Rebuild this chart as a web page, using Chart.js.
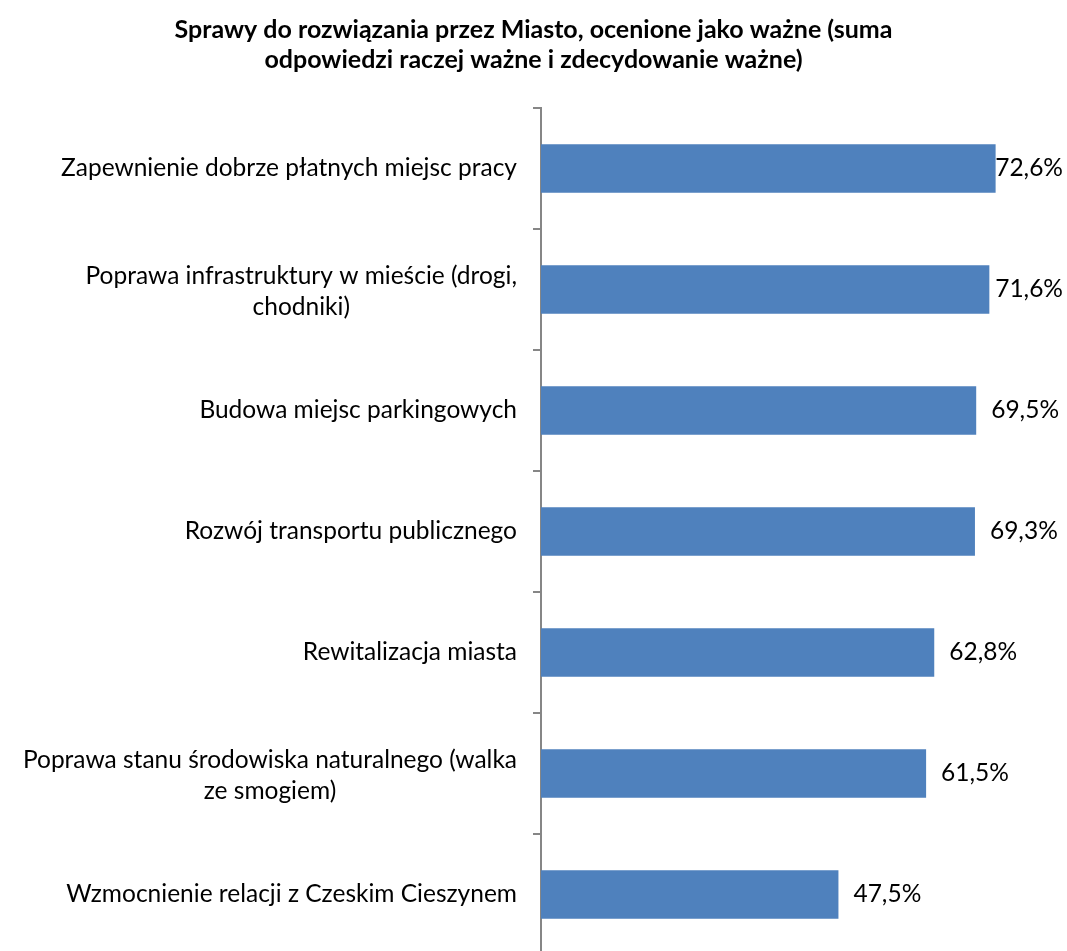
<!DOCTYPE html>
<html>
<head>
<meta charset="utf-8">
<script src="https://cdn.jsdelivr.net/npm/chart.js@4/dist/chart.umd.min.js"></script>
<style>
  html, body { margin: 0; padding: 0; background: #fff; overflow: hidden; }
  #wrap { position: relative; width: 1067px; height: 956px; }
</style>
</head>
<body>
<div id="wrap"><canvas id="chart"></canvas></div>
<script>
// Chart data
const categories = [
    ['Zapewnienie dobrze płatnych miejsc pracy'],
    ['Poprawa infrastruktury w mieście (drogi,', 'chodniki)'],
    ['Budowa miejsc parkingowych'],
    ['Rozwój transportu publicznego'],
    ['Rewitalizacja miasta'],
    ['Poprawa stanu środowiska naturalnego (walka', 'ze smogiem)'],
    ['Wzmocnienie relacji z Czeskim Cieszynem']
];
const values = [72.6, 71.6, 69.5, 69.3, 62.8, 61.5, 47.5];
const valueLabels = ['72,6%', '71,6%', '69,5%', '69,3%', '62,8%', '61,5%', '47,5%'];
const titleLines = [
    'Sprawy do rozwiązania przez Miasto, ocenione jako ważne (suma',
    'odpowiedzi raczej ważne i zdecydowanie ważne)'
];

const FONT = 'Lato, sans-serif';
const LABEL_SIZE = 24.5;
const AXIS_COLOR = '#868686';
const BAR_COLOR = '#4F81BD';

// draws category names left of the axis and value labels after the bars
const labelsPlugin = {
    id: 'labelsPlugin',
    afterDatasetsDraw(chart) {
        const ctx = chart.ctx;
        const yScale = chart.scales.y;
        const area = chart.chartArea;
        ctx.save();
        ctx.fillStyle = '#000';
        ctx.textBaseline = 'middle';
        ctx.font = LABEL_SIZE + 'px ' + FONT;

        // category labels, block right-aligned, lines centred in block
        const lineH = 31;
        categories.forEach((lines, i) => {
            const cy = yScale.getPixelForValue(i) + (lines.length > 1 ? 2 : 0);
            const maxW = Math.max(...lines.map(l => ctx.measureText(l).width));
            const cx = area.left - 24 - maxW / 2;
            ctx.textAlign = 'center';
            lines.forEach((l, j) => {
                const y = cy + (j - (lines.length - 1) / 2) * lineH;
                ctx.fillText(l, cx, y);
            });
        });

        // value labels
        const meta = chart.getDatasetMeta(0);
        ctx.textAlign = 'left';
        meta.data.forEach((bar, i) => {
            const w = ctx.measureText(valueLabels[i]).width;
            const x = Math.min(bar.x + 15, chart.width - w - 4);
            ctx.fillText(valueLabels[i], x, bar.y);
        });
        ctx.restore();
    }
};

new Chart(document.getElementById('chart'), {
    type: 'bar',
    data: {
        labels: categories.map(c => c.join(' ')),
        datasets: [{
            data: values,
            backgroundColor: BAR_COLOR,
            borderWidth: 0,
            barPercentage: 0.4,
            categoryPercentage: 1
        }]
    },
    options: {
        indexAxis: 'y',
        responsive: true,
        maintainAspectRatio: false,
        animation: false,
        layout: { padding: { left: 0, right: 0, top: 0, bottom: 1 } },
        plugins: {
            legend: { display: false },
            tooltip: { enabled: false },
            title: {
                display: true,
                text: titleLines,
                color: '#000',
                font: { family: FONT, size: 25, weight: 'bold' },
                lineHeight: 1.2,
                padding: { top: 15, bottom: 33 }
            }
        },
        scales: {
            x: {
                display: false,
                min: 0,
                max: 84
            },
            y: {
                afterFit(scale) { scale.width = 541; },
                grid: {
                    offset: true,
                    drawOnChartArea: false,
                    drawTicks: true,
                    tickLength: 8,
                    color: AXIS_COLOR,
                    lineWidth: 2
                },
                border: { display: true, color: AXIS_COLOR, width: 2 },
                ticks: { display: false }
            }
        }
    },
    plugins: [labelsPlugin]
});
</script>
</body>
</html>
